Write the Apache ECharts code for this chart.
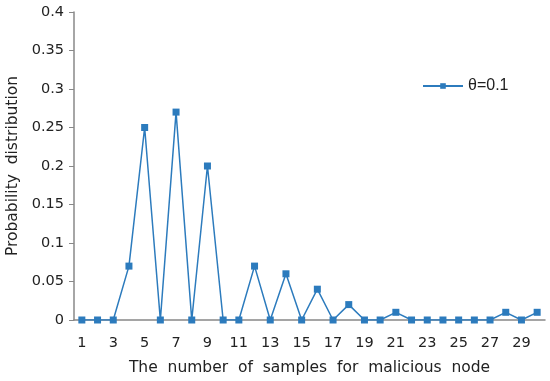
<!DOCTYPE html>
<html><head><meta charset="utf-8">
<script src="https://cdn.jsdelivr.net/npm/echarts@6/dist/echarts.min.js"></script>
<style>html,body{margin:0;padding:0;background:#fff}#c{width:550px;height:381px}</style>
</head><body><div id="c"></div>
<script>
var categories = [];
for (var i = 1; i <= 30; i++) categories.push(String(i));
var values = [0,0,0,0.07,0.25,0,0.27,0,0.2,0,0,0.07,0,0.06,0,0.04,0,0.02,0,0,0.01,0,0,0,0,0,0,0.01,0,0.01];
var seriesName = 'θ=0.1';
var yTicks = {min:0, max:0.4, interval:0.05};

var chart = echarts.init(document.getElementById('c'), null, {renderer:'canvas'});
var color = '#2c7bbd';
chart.setOption({
  animation:false,
  backgroundColor:'#fff',
  grid:{left:74, right:5, top:12, bottom:61, containLabel:false, outerBoundsMode:'none'},
  legend:{
    data:[{name:seriesName}],
    left:417, top:73, itemWidth:40, itemHeight:7, itemGap:2,
    textStyle:{fontFamily:'Liberation Sans', fontSize:16, color:'#222'}
  },
  xAxis:{
    type:'category', data:categories, boundaryGap:true,
    name:'The  number  of  samples  for  malicious  node',
    nameLocation:'middle', nameGap:40,
    nameTextStyle:{fontFamily:'DejaVu Sans', fontSize:15.5, color:'#222'},
    axisLine:{lineStyle:{color:'#888', width:1.5}},
    axisTick:{show:false},
    axisLabel:{interval:1, margin:16, fontFamily:'DejaVu Sans', fontSize:14.5, color:'#222'},
    splitLine:{show:false}
  },
  yAxis:{
    type:'value', min:yTicks.min, max:yTicks.max, interval:yTicks.interval,
    name:'Probability  distribution', nameLocation:'middle', nameGap:52,
    nameTextStyle:{fontFamily:'DejaVu Sans', fontSize:15.5, color:'#222'},
    axisLine:{show:true, lineStyle:{color:'#888', width:1.5}},
    axisTick:{show:true, length:5, lineStyle:{color:'#888'}},
    axisLabel:{margin:10, fontFamily:'DejaVu Sans', fontSize:14.5, color:'#222',
      formatter:function(v){return String(parseFloat(v.toFixed(2)));}},
    splitLine:{show:false}
  },
  series:[{
    name:seriesName, type:'line', data:values,
    symbol:'rect', symbolSize:7,
    lineStyle:{color:color, width:1.5},
    itemStyle:{color:color}
  }]
});
</script></body></html>
